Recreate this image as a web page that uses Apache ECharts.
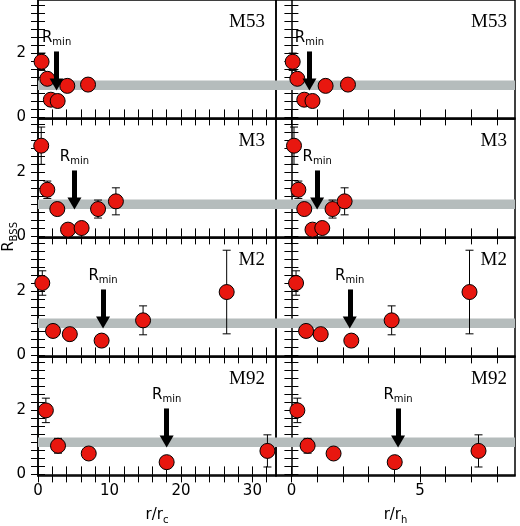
<!DOCTYPE html>
<html>
<head>
<meta charset="utf-8">
<script src="https://cdn.jsdelivr.net/npm/echarts@6/dist/echarts.min.js"></script>
<style>html,body{margin:0;padding:0;background:#fff}#main{width:520px;height:526px}</style>
</head>
<body>
<div id="main"></div>
<script>
// cluster names, one row each
var clusters = ["M53", "M3", "M2", "M92"];

// radial positions in units of core radius (left column)
var xCore = [
  [0.5, 1.3, 1.8, 2.75, 4.1, 7.0],
  [0.45, 1.3, 2.7, 4.2, 6.1, 8.4, 10.9],
  [0.6, 2.1, 4.45, 8.9, 14.7, 26.4],
  [1.1, 2.8, 7.1, 18.0, 32.1]
];
// radial positions in units of half-mass radius (right column)
var xHalf = [
  [0.05, 0.23, 0.5, 0.82, 1.33, 2.2],
  [0.1, 0.27, 0.5, 0.82, 1.2, 1.6, 2.07],
  [0.18, 0.57, 1.14, 2.33, 3.9, 6.93],
  [0.23, 0.63, 1.64, 4.02, 7.28]
];
// double normalized ratio and its error
var rBss = [
  [1.73, 1.2, 0.55, 0.51, 0.98, 1.02],
  [2.82, 1.45, 0.85, 0.21, 0.26, 0.85, 1.09],
  [2.25, 0.76, 0.66, 0.46, 1.09, 1.97],
  [1.99, 0.89, 0.65, 0.38, 0.73]
];
var rErr = [
  [0.27, 0.15, 0.08, 0.08, 0.12, 0.12],
  [0.58, 0.27, 0.12, 0.05, 0.05, 0.28, 0.42],
  [0.38, 0.05, 0.05, 0.05, 0.45, 1.3],
  [0.38, 0.23, 0.05, 0.05, 0.5]
];
// position of minimum
var rminCore = [2.6, 5.1, 9.1, 18.0];
var rminHalf = [0.7, 1.0, 2.27, 4.15];
// grey band of normal populations
var band = [0.85, 1.15];

var font = "DejaVu Sans";
var grids = [], xAxes = [], yAxes = [], series = [], titles = [];
var tops = [0, 119, 238, 357];
var subRich = { s: { fontSize: 10, fontFamily: font, verticalAlign: "bottom", padding: [9, 0, 0, 0] } };
var yTicks = [0, 0.25, 0.5, 0.75, 1, 1.25, 1.5, 1.75, 2, 2.25, 2.5, 2.75, 3, 3.25, 3.5];
var xCoreTicks = [0, 2, 4, 6, 8, 10, 12, 14, 16, 18, 20, 22, 24, 26, 28, 30, 32];
var xHalfTicks = [0, 1, 2, 3, 4, 5, 6, 7, 8];

function addPanel(row, col) {
  var gi = grids.length;
  var xs = col === 0 ? xCore[row] : xHalf[row];
  var rmin = col === 0 ? rminCore[row] : rminHalf[row];
  var xmin = col === 0 ? 0 : -0.6, xmax = col === 0 ? 33.3 : 8.7;
  grids.push({
    left: col === 0 ? 38 : 276, width: col === 0 ? 238 : 239,
    top: tops[row], height: 119, show: true,
    borderColor: "#000", borderWidth: 1.5
  });
  var last = row === 3;
  var tick = { show: true, inside: true, length: 8, customValues: col === 0 ? xCoreTicks : xHalfTicks, lineStyle: { color: "#000", width: 1 } };
  xAxes.push({
    type: "value", gridIndex: gi, position: "bottom", min: xmin, max: xmax,
    axisLine: { lineStyle: { color: "#000", width: 1.5 } },
    axisTick: tick,
    axisLabel: { show: last, customValues: col === 0 ? [0, 10, 20, 30] : [0, 5], color: "#000", fontSize: 15, fontFamily: font, margin: 8 },
    splitLine: { show: false },
    name: last ? (col === 0 ? "r/r{s|c}" : "r/r{s|h}") : "",
    nameLocation: "middle", nameGap: 30,
    nameTextStyle: { color: "#000", fontSize: 15, fontFamily: font, rich: subRich }
  });
  xAxes.push({
    type: "value", gridIndex: gi, position: "top", min: xmin, max: xmax,
    axisLine: { show: false }, axisTick: tick,
    axisLabel: { show: false }, splitLine: { show: false }
  });
  var ytick = { show: true, inside: true, length: 7, customValues: yTicks, lineStyle: { color: "#000", width: 1 } };
  yAxes.push({
    type: "value", gridIndex: gi, min: -0.05, max: 3.65, position: "left",
    axisLine: { show: true, lineStyle: { color: "#000", width: 1.5 } },
    axisTick: ytick,
    axisLabel: { show: col === 0, customValues: [0, 2], color: "#000", fontSize: 15, fontFamily: font, margin: 12 },
    splitLine: { show: false }
  });
  yAxes.push({
    type: "value", gridIndex: gi, min: -0.05, max: 3.65, position: "right",
    axisLine: { show: false }, axisTick: ytick, axisLabel: { show: false }, splitLine: { show: false }
  });
  var xi = gi * 2, yi = gi * 2;
  var pts = xs.map(function (x, i) { return [x, rBss[row][i], rErr[row][i]]; });

  series.push({
    type: "custom", xAxisIndex: xi, yAxisIndex: yi, data: pts, z: 3,
    renderItem: function (params, api) {
      var x = api.value(0), y = api.value(1), e = api.value(2);
      var top = api.coord([x, y + e]), bot = api.coord([x, y - e]);
      var st = { stroke: "#000", lineWidth: 1 };
      return { type: "group", children: [
        { type: "line", shape: { x1: top[0], y1: top[1], x2: bot[0], y2: bot[1] }, style: st },
        { type: "line", shape: { x1: top[0] - 4, y1: top[1], x2: top[0] + 4, y2: top[1] }, style: st },
        { type: "line", shape: { x1: bot[0] - 4, y1: bot[1], x2: bot[0] + 4, y2: bot[1] }, style: st }
      ] };
    }
  });
  series.push({
    type: "scatter", xAxisIndex: xi, yAxisIndex: yi, z: 4,
    data: pts.map(function (p) { return [p[0], p[1]]; }),
    symbolSize: 15,
    itemStyle: { color: "#e8170f", borderColor: "#000", borderWidth: 1, opacity: 1 },
    markArea: {
      silent: true, z: 1,
      itemStyle: { color: "#b5bcbc" },
      data: [[{ coord: [xmin, band[0]] }, { coord: [xmax, band[1]] }]]
    },
    markLine: {
      silent: true, animation: false,
      symbol: ["none", "triangle"], symbolSize: [14, 12], symbolRotate: 180,
      lineStyle: { color: "#000", width: 5, type: "solid", opacity: 1 },
      itemStyle: { color: "#000" },
      label: {
        position: "start", distance: 4, formatter: "R{s|min}", color: "#000",
        fontSize: 15, fontFamily: font, rich: subRich
      },
      data: [[{ coord: [rmin, 2.05] }, { coord: [rmin, 1.02] }]]
    }
  });
  titles.push({
    text: clusters[row],
    right: col === 0 ? 520 - 276 + 6 : 8, top: tops[row] + 8,
    textStyle: { fontFamily: "Liberation Serif", fontSize: 19, fontWeight: "normal", color: "#000" }
  });
}

for (var r = 0; r < 4; r++) { addPanel(r, 0); addPanel(r, 1); }

var chart = echarts.init(document.getElementById("main"), null, { renderer: "canvas" });
chart.setOption({
  animation: false,
  title: titles,
  grid: grids,
  xAxis: xAxes,
  yAxis: yAxes,
  series: series,
  graphic: [{
    type: "text", left: 2, top: 222, rotation: Math.PI / 2,
    style: { text: "R{s|BSS}", fill: "#000", font: "15px DejaVu Sans", rich: subRich }
  }]
});
</script>
</body>
</html>
